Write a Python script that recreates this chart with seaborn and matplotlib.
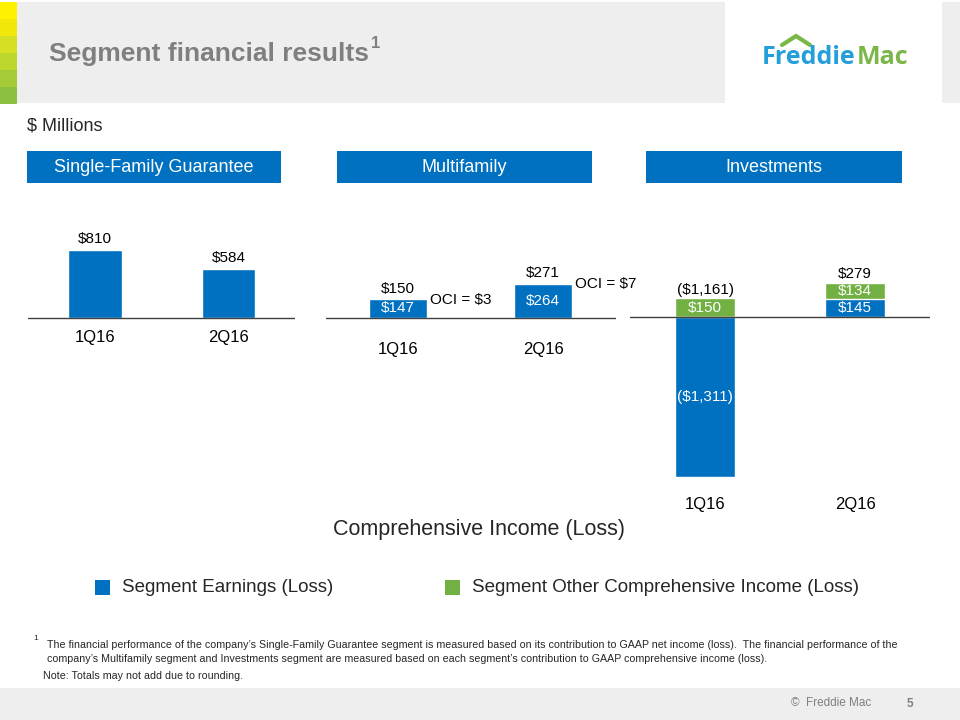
#!/usr/bin/env python3
"""Segment financial results slide (Freddie Mac, 2Q16)."""
import matplotlib

matplotlib.use("Agg")
import matplotlib.pyplot as plt
import pandas as pd
import seaborn as sns
from matplotlib.lines import Line2D
from matplotlib.patches import Rectangle

sns.set_style("white")
plt.rcParams["font.family"] = ["Liberation Sans", "DejaVu Sans"]

# ---- data ($ millions) ----
quarters = ["1Q16", "2Q16"]
sf_earnings = [810, 584]
mf_earnings = [147, 264]
mf_oci = [3, 7]
mf_total = [150, 271]
inv_earnings = [-1311, 145]
inv_oci = [150, 134]
inv_total = [-1161, 279]

panel_titles = ["Single-Family Guarantee", "Multifamily", "Investments"]
legend_labels = ["Segment Earnings (Loss)", "Segment Other Comprehensive Income (Loss)"]

BLUE = "#0070C0"
GREEN = "#72B043"
GRAY_BG = "#EEEEEE"
TITLE_GRAY = "#7F7F7F"
W, H = 960, 720


def fmt(v):
    return f"${v:,}" if v >= 0 else f"(${-v:,})"


def px_axes(fig, x0, x1, y0, y1):
    return fig.add_axes([x0 / W, 1 - y1 / H, (x1 - x0) / W, (y1 - y0) / H])


def panel(fig, x0, x1, top, bottom, base, ppu):
    ax = px_axes(fig, x0, x1, top, bottom)
    ax.set_ylim(-(bottom - base) / ppu, (base - top) / ppu)
    ax.patch.set_alpha(0)
    return ax


def finish(ax):
    ax.set_xlim(-0.5, 1.5)
    ax.axhline(0, color="#404040", lw=1.0, zorder=5)
    sns.despine(ax=ax, left=True, bottom=True)
    ax.set_yticks([])
    ax.set_xlabel("")
    ax.set_ylabel("")
    ax.tick_params(axis="x", length=0, pad=3, labelsize=12, colors="black")


def label(ax, x, y, text, color="black", va="center", dy=0, ha="center"):
    ax.annotate(text, (x, y), xytext=(0, dy), textcoords="offset points",
                ha=ha, va=va, fontsize=11, color=color, zorder=6)


fig = plt.figure(figsize=(9.6, 7.2), dpi=100)
bg = fig.add_axes([0, 0, 1, 1])
bg.set_xlim(0, W)
bg.set_ylim(H, 0)
bg.axis("off")

# header band, logo box, colour strip
bg.add_patch(Rectangle((0, 2), W, 101, color=GRAY_BG, lw=0))
bg.add_patch(Rectangle((725, 2), 217, 101, color="white", lw=0))
strip = ["#FFF200", "#F1E80A", "#D6DF24", "#BED72F", "#A5CB38", "#8CC040"]
for i, c in enumerate(strip):
    bg.add_patch(Rectangle((0, 2 + i * 17), 17, 17, color=c, lw=0))
bg.text(49, 54, "Segment financial results", fontsize=19, fontweight="bold",
        color=TITLE_GRAY, va="center")
bg.text(371, 44, "1", fontsize=12, fontweight="bold", color=TITLE_GRAY, va="center")

# logo
logo_font = ["Open Sans", "DejaVu Sans"]
bg.text(762, 58, "Freddie", fontsize=18, fontweight="bold", color="#239FDA",
        va="center", family=logo_font)
bg.text(857, 58, "Mac", fontsize=18, fontweight="bold", color="#7AB648",
        va="center", family=logo_font)
bg.add_line(Line2D([782, 796, 810], [45, 36, 45], color="#7AB648", lw=3,
                   solid_joinstyle="miter"))

bg.text(27, 126, "$ Millions", fontsize=13, va="center")

# panel header boxes
for (x0, x1), t in zip([(27, 281), (337, 592), (646, 902)], panel_titles):
    bg.add_patch(Rectangle((x0, 151), x1 - x0, 32, color=BLUE, lw=0))
    bg.text((x0 + x1) / 2, 168, t, fontsize=13, color="white", ha="center", va="center")

# ---- Single-Family Guarantee ----
ax = panel(fig, 28.25, 295.25, 220, 326, 318.3, 0.0843)
sf = pd.DataFrame({"q": quarters, "v": sf_earnings})
sns.barplot(data=sf, x="q", y="v", color=BLUE, saturation=1, width=0.4,
            errorbar=None, ax=ax)
for i, v in enumerate(sf_earnings):
    label(ax, i, v, fmt(v), va="bottom", dy=3)
finish(ax)

# ---- Multifamily ----
ax = panel(fig, 325.5, 615.5, 250, 338, 317.7, 0.128)
mf = pd.DataFrame({"q": quarters, "e": mf_earnings,
                   "top": [max(e, 0) + o for e, o in zip(mf_earnings, mf_oci)]})
sns.barplot(data=mf, x="q", y="top", color=GREEN, saturation=1, width=0.4,
            errorbar=None, ax=ax)
sns.barplot(data=mf, x="q", y="e", color=BLUE, saturation=1, width=0.4,
            errorbar=None, ax=ax)
for i in range(2):
    e, o, t = mf_earnings[i], mf_oci[i], mf_total[i]
    label(ax, i, e / 2, fmt(e), color="white")
    label(ax, i, e + o, fmt(t), va="bottom", dy=2)
    label(ax, i + 0.22, e + o, f"OCI = ${o}", ha="left", dy=-1)
finish(ax)

# ---- Investments ----
ax = panel(fig, 630, 930, 250, 493, 316.7, 0.1222)
inv = pd.DataFrame({"q": quarters, "e": inv_earnings,
                    "top": [max(e, 0) + o for e, o in zip(inv_earnings, inv_oci)]})
sns.barplot(data=inv, x="q", y="top", color=GREEN, saturation=1, width=0.4,
            errorbar=None, ax=ax)
sns.barplot(data=inv, x="q", y="e", color=BLUE, saturation=1, width=0.4,
            errorbar=None, ax=ax)
for i in range(2):
    e, o, t = inv_earnings[i], inv_oci[i], inv_total[i]
    b = max(e, 0)
    label(ax, i, e / 2, fmt(e), color="white")
    label(ax, i, b + o / 2, fmt(o), color="white")
    label(ax, i, b + o, fmt(t), va="bottom", dy=1)
finish(ax)

# ---- caption, legend, footnote ----
bg.text(479, 530, "Comprehensive Income (Loss)", fontsize=15.5, ha="center", va="center")
for (x, c), t in zip([(95, BLUE), (445, GREEN)], legend_labels):
    bg.add_patch(Rectangle((x, 580), 15, 15, color=c, lw=0))
    bg.text(x + 27, 587.5, t, fontsize=13.5, va="center")

foot = ["The financial performance of the company\u2019s Single-Family Guarantee segment is "
        "measured based on its contribution to GAAP net income (loss).  The financial "
        "performance of the",
        "company\u2019s Multifamily segment and Investments segment are measured based on "
        "each segment\u2019s contribution to GAAP comprehensive income (loss)."]
bg.text(33, 639, "1", fontsize=6, va="center")
bg.text(47, 645, foot[0], fontsize=7.65, va="center")
bg.text(47, 659, foot[1], fontsize=7.65, va="center")
bg.text(43, 676, "Note: Totals may not add due to rounding.", fontsize=7.65, va="center")

# footer
bg.add_patch(Rectangle((0, 688), W, 32, color=GRAY_BG, lw=0))
bg.text(871, 703, "\u00a9  Freddie Mac", fontsize=8.5, color=TITLE_GRAY, ha="right",
        va="center")
bg.text(910, 704, "5", fontsize=8.5, fontweight="bold", color=TITLE_GRAY, ha="center",
        va="center")

fig.savefig("out.png", dpi=100)
